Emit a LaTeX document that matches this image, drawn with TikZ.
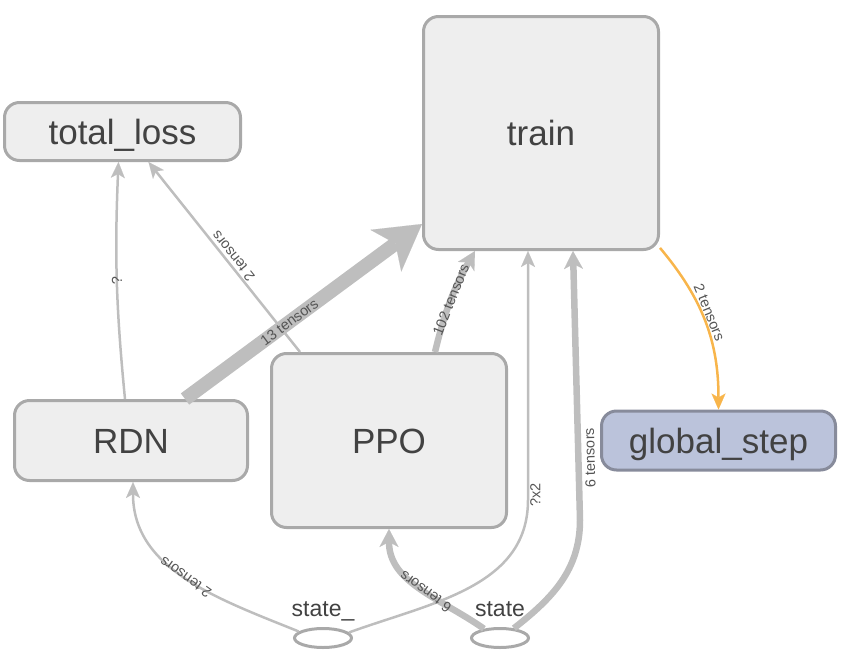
\documentclass[tikz,border=0pt]{standalone}
\usepackage{fontspec}
\setmainfont{Liberation Sans}
\usepackage{tikz}
\usetikzlibrary{positioning, shapes.geometric, arrows.meta}
\definecolor{boxfill}{HTML}{EEEEEE}
\definecolor{boxline}{HTML}{A9A9A9}
\definecolor{edgegray}{HTML}{BEBEBE}
\definecolor{txtgray}{HTML}{424242}
\definecolor{lblgray}{HTML}{555555}
\definecolor{stepfill}{HTML}{BBC3DB}
\definecolor{stepline}{HTML}{878B9B}
\definecolor{orangeedge}{HTML}{F8B54B}

\begin{document}
\begin{tikzpicture}[x=1pt, y=1pt,
  box/.style={draw=boxline, fill=boxfill, line width=3pt, rounded corners=15pt, text=txtgray, font=\fontsize{35}{35}\selectfont, text height=25pt, text depth=0pt, inner sep=0pt},
  ph/.style={draw=boxline, ellipse, line width=3pt, minimum width=57pt, minimum height=19pt, inner sep=0pt},
  phname/.style={text=txtgray, font=\fontsize{23}{23}\selectfont, inner sep=0pt, anchor=base},
  lbl/.style={font=\fontsize{14.5}{14.5}\selectfont, text=lblgray, sloped, allow upside down, inner sep=1pt},
  flow/.style={draw=edgegray, line width=2.5pt, -{Stealth[length=16pt, width=14pt, inset=4pt, line width=0.1pt]}},
  flowmid/.style={draw=edgegray, line width=6.5pt, -{Stealth[length=18pt, width=19pt, inset=5pt, line width=0.1pt]}},
  flowfat/.style={draw=edgegray, line width=14pt, -{Stealth[length=45pt, width=52pt, inset=12pt, line width=0.1pt]}}]
  \useasboundingbox (0,0) rectangle (844,-659);

  \node[box, minimum width=235pt, minimum height=233pt] (T) at (541,-133) {train};
  \node[box, minimum width=236pt, minimum height=58pt] (L) at (122.5,-131.5) {total\_loss};
  \node[box, minimum width=233pt, minimum height=80pt] (R) at (131,-440.5) {RDN};
  \node[box, minimum width=235pt, minimum height=174pt, right=21pt of R] (P) {PPO};
  \node[box, fill=stepfill, draw=stepline, minimum width=234pt, minimum height=59pt, right=92pt of P] (G) {global\_step};
  \node[ph] (S1) at (323,-638) {};
  \node[ph, right=117pt of S1] (S2) {};
  \node[phname] (S1L) at ([yshift=10.5pt]S1.north) {state\_};
  \node[phname] (S2L) at ([yshift=10.5pt]S2.north) {state};
  \coordinate (W1) at (528,-500);
  \coordinate (W2) at (580,-520);

  \draw[flow] ([xshift=-6pt]R.north) to[bend left=4] node[lbl] {?} ([xshift=-4pt]L.south);
  \draw[flow] ([xshift=30pt]P.north west) -- node[lbl, pos=0.48, below=0pt] {2 tensors} ([xshift=26pt]L.south);
  \draw[flowfat] ([xshift=54pt]R.north) -- node[lbl, pos=0.44] {13 tensors} ([yshift=27pt]T.south west);
  \draw[flowmid] ([xshift=46pt]P.north) to[bend left=8] node[lbl] {102 tensors} ([xshift=-66pt]T.south);
  \draw[flow] (S1.12) to[out=20, in=-90] (W1) -- node[lbl, pos=0.02, below=0pt] {?x2} ([xshift=-13pt]T.south);
  \draw[flowmid] (S2.35) to[out=38, in=-90] (W2) -- node[lbl, pos=0.23, below=2pt] {6 tensors} ([xshift=32pt]T.south);
  \draw[flowmid] (S2.150) to[out=145, in=-90] node[lbl, pos=0.45] {6 tensors} (P.south);
  \draw[flow] (S1.165) to[out=158, in=-90] node[lbl, pos=0.5] {2 tensors} ([xshift=2pt]R.south);
  \draw[flow, draw=orangeedge] (T.-44) to[out=-50, in=90] node[lbl, pos=0.45, above=0pt] {2 tensors} (G.north);
\end{tikzpicture}
\end{document}
